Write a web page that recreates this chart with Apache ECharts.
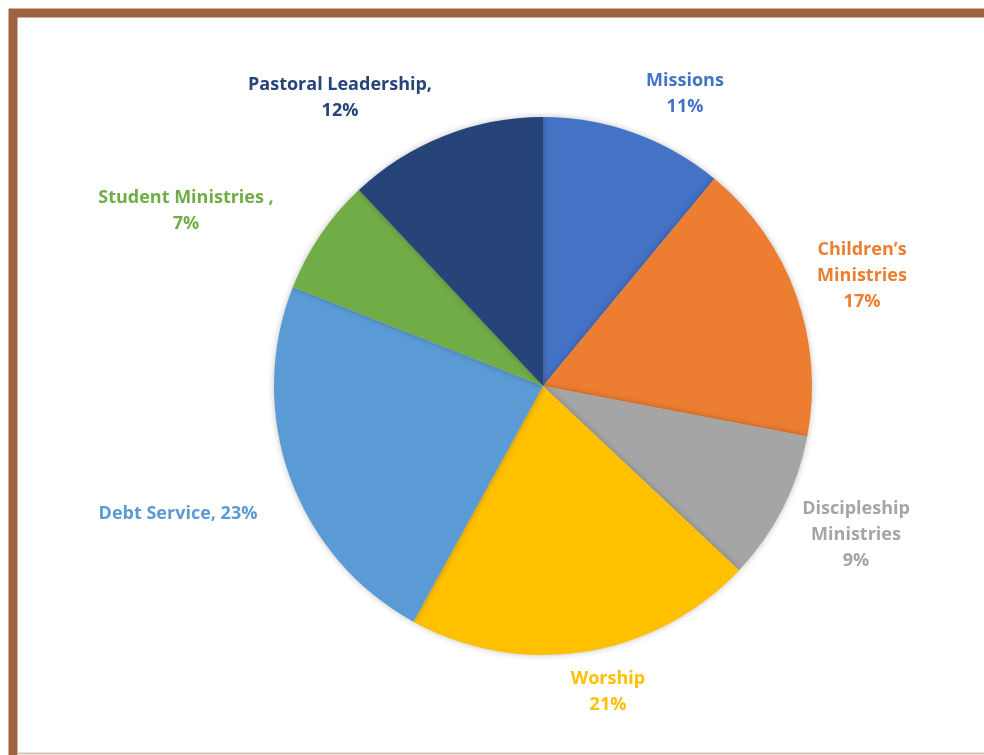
<!DOCTYPE html>
<html>
<head>
<meta charset="utf-8">
<script src="https://cdn.jsdelivr.net/npm/echarts@6/dist/echarts.min.js"></script>
<style>
html,body{margin:0;padding:0;background:#fff;}
#chart{width:984px;height:755px;}
</style>
</head>
<body>
<div id="chart"></div>
<script>
const categories = ["Missions", "Children’s Ministries", "Discipleship Ministries", "Worship", "Debt Service", "Student Ministries", "Pastoral Leadership"];
const labelNames = ["Missions\n", "Children’s\nMinistries\n", "Discipleship\nMinistries\n", "Worship\n", "Debt Service, ", "Student Ministries ,\n", "Pastoral Leadership,\n"];
const values = [11, 17, 9, 21, 23, 7, 12];
const colors = ["#4472C4", "#ED7D31", "#A5A5A5", "#FFC000", "#5B9BD5", "#70AD47", "#264478"];

// label anchor points (layout only)
const labelPos = [[685, 94], [862, 276], [856, 535], [608, 692], [178, 514], [186, 211], [340, 98]];

const chart = echarts.init(document.getElementById('chart'));
chart.setOption({
  backgroundColor: '#ffffff',
  animation: false,
  graphic: [{
    type: 'rect',
    shape: { x: 13, y: 13, width: 1000, height: 800 },
    style: { fill: 'none', stroke: '#9E6241', lineWidth: 9 },
    z: 10
  }, {
    type: 'line',
    shape: { x1: 17, y1: 753.5, x2: 984, y2: 753.5 },
    style: { stroke: '#D8C2B4', lineWidth: 2 },
    z: 10
  }],
  series: [{
    type: 'pie',
    center: [543, 386],
    radius: [0, 269],
    startAngle: 90,
    clockwise: true,
    data: categories.map((c, i) => ({
      name: c,
      value: values[i],
      itemStyle: { color: colors[i] },
      label: { color: colors[i] }
    })),
    itemStyle: {
      borderWidth: 0,
      shadowBlur: 6,
      shadowColor: 'rgba(0,0,0,0.25)'
    },
    label: {
      show: true,
      position: 'outside',
      formatter: p => labelNames[p.dataIndex] + p.value + '%',
      fontFamily: 'Open Sans',
      fontWeight: 'bold',
      fontSize: 18,
      lineHeight: 26,
      align: 'center'
    },
    labelLine: { show: false },
    labelLayout: function (params) {
      const p = labelPos[params.dataIndex];
      return { x: p[0], y: p[1], align: 'center', verticalAlign: 'middle', hideOverlap: false };
    }
  }]
});
</script>
</body>
</html>
